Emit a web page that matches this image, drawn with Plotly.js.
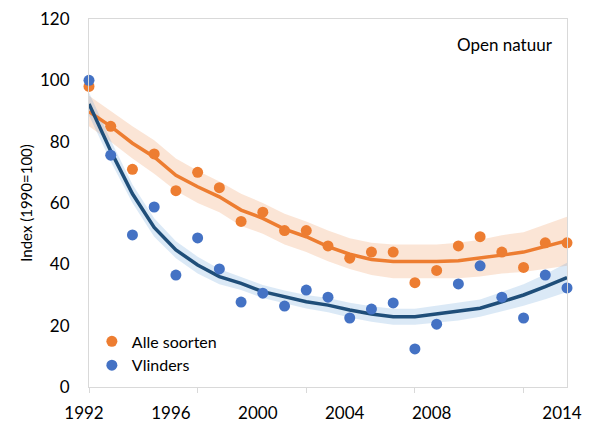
<!DOCTYPE html>
<html>
<head>
<meta charset="utf-8">
<script src="https://cdn.plot.ly/plotly-3.0.1.min.js"></script>
<style>html,body{margin:0;padding:0;background:#fff;}#chart{width:601px;height:425px;}</style>
</head>
<body>
<div id="chart"></div>
<script>
var years = [1992,1993,1994,1995,1996,1997,1998,1999,2000,2001,2002,2003,2004,2005,2006,2007,2008,2009,2010,2011,2012,2013,2014];

var alleSoorten = [98,85,71,76,64,70,65,54,57,51,51,46,42,44,44,34,38,46,49,44,39,47,47];
var alleTrend   = [89.8,85,79.5,75,69,65.3,62,57.7,55,51.5,49,45.8,43.3,41.6,40.9,40.9,40.9,41.2,42,43,44,45.8,47.7];
var alleUpper   = [95,90,85,80.5,74.5,70.5,67,63,60,56.5,54,51,48.5,47,46.5,46.5,46.5,47,48,49.5,50.5,53,55.5];
var alleLower   = [85,80,74.5,69.5,64,60,57,52.5,50,46.5,44,41,38.5,36.5,35.5,35.5,35.5,35.5,36,37,37.5,38.5,39.5];

var vlinders      = [100,75.6,49.6,58.7,36.5,48.6,38.5,27.7,30.6,26.4,31.6,29.3,22.5,25.4,27.4,12.4,20.5,33.6,39.5,29.3,22.5,36.5,32.3];
var vlindersTrend = [92.3,77,63,52,44.7,39.8,36,33.8,31.1,29.4,27.8,26.7,25.1,23.8,22.9,22.9,23.8,24.6,25.7,27.8,30,32.7,35.7];
var vlindersUpper = [96,80.5,66,55,47.5,42.5,38.5,36,33.3,31.5,30,29,27.5,26.3,25.5,25.5,26.5,27.5,28.5,31,33.5,36.8,40.5];
var vlindersLower = [88.5,73.5,60,49,42,37,33.5,31.6,29,27.3,25.6,24.4,22.7,21.3,20.3,20.3,21.1,21.7,22.9,24.6,26.5,28.6,31];

var xTickVals = [1992,1996,2000,2004,2008,2014];
var xTickText = ['1992','1996','2000','2004','2008','2014'];
var seriesNames = ['Alle soorten','Vlinders'];
var panelLabel = 'Open natuur';

var ORANGE = '#ED7D31', ORANGE_BAND = 'rgba(237,125,49,0.2)';
var BLUE = '#4472C4', NAVY = '#1F4E79', BLUE_BAND = 'rgba(91,155,213,0.22)';
var FONT = 'Lato, "Open Sans", sans-serif';

var traces = [
  {x: years, y: alleLower, mode: 'lines', line: {width: 0, color: ORANGE_BAND}, showlegend: false, hoverinfo: 'skip'},
  {x: years, y: alleUpper, mode: 'lines', line: {width: 0, color: ORANGE_BAND}, fill: 'tonexty', fillcolor: ORANGE_BAND, showlegend: false, hoverinfo: 'skip'},
  {x: years, y: vlindersLower, mode: 'lines', line: {width: 0, color: BLUE_BAND}, showlegend: false, hoverinfo: 'skip'},
  {x: years, y: vlindersUpper, mode: 'lines', line: {width: 0, color: BLUE_BAND}, fill: 'tonexty', fillcolor: BLUE_BAND, showlegend: false, hoverinfo: 'skip'},
  {x: years, y: alleTrend, mode: 'lines', line: {width: 3.5, color: ORANGE}, showlegend: false},
  {x: years, y: vlindersTrend, mode: 'lines', line: {width: 3.5, color: NAVY}, showlegend: false},
  {x: years, y: alleSoorten, mode: 'markers', name: seriesNames[0], marker: {size: 11, color: ORANGE}, cliponaxis: false},
  {x: years, y: vlinders, mode: 'markers', name: seriesNames[1], marker: {size: 11, color: BLUE}, cliponaxis: false}
];

var layout = {
  width: 601, height: 425,
  margin: {l: 89, r: 34, t: 19, b: 38},
  paper_bgcolor: '#fff', plot_bgcolor: '#fff',
  font: {family: FONT, size: 17, color: '#000'},
  xaxis: {
    range: [1992, 2014], showgrid: false, zeroline: false,
    showline: true, mirror: true, linecolor: '#d9d9d9', linewidth: 1,
    tickmode: 'array', tickvals: xTickVals, ticktext: xTickText, ticks: '',
    ticklabelstandoff: 11, ticklabelshift: -5,
    tickfont: {family: FONT, size: 17, color: '#000'},
    minor: {tick0: 1992, dtick: 5, ticks: 'outside', ticklen: 5, tickcolor: '#d9d9d9', tickwidth: 1, showgrid: false}
  },
  yaxis: {
    range: [0, 120], dtick: 20, showgrid: false, zeroline: false,
    showline: true, mirror: true, linecolor: '#d9d9d9', linewidth: 1,
    ticks: '', ticklabelstandoff: 15,
    tickfont: {family: FONT, size: 17, color: '#000'},
    title: {text: 'Index (1990=100)', font: {family: FONT, size: 15, color: '#000'}, standoff: 3}
  },
  legend: {
    x: 0.006, y: 0.17, xanchor: 'left', yanchor: 'top', traceorder: 'normal',
    bgcolor: 'rgba(0,0,0,0)', font: {family: FONT, size: 16, color: '#000'},
    itemwidth: 30, tracegroupgap: 0
  },
  annotations: [{
    xref: 'paper', yref: 'paper', x: 0.975, y: 0.93, xanchor: 'right', yanchor: 'middle',
    text: panelLabel, showarrow: false, font: {family: FONT, size: 17, color: '#000'}
  }]
};

Plotly.newPlot('chart', traces, layout, {displayModeBar: false, staticPlot: true});
</script>
</body>
</html>
